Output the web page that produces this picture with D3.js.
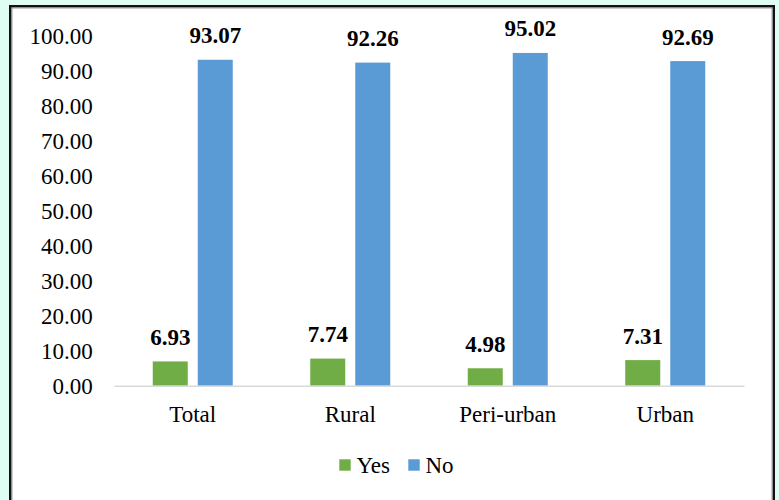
<!DOCTYPE html>
<html>
<head>
<meta charset="utf-8">
<script src="https://cdn.jsdelivr.net/npm/d3@7/dist/d3.min.js"></script>
</head>
<body style="margin:0;background:#e0fdf3">
<svg id="chart" width="779" height="500" style="display:block"></svg>
<script>
// Share of respondents answering Yes / No, by area
const categories = ["Total", "Rural", "Peri-urban", "Urban"];
const seriesNames = ["Yes", "No"];
const yesValues = [6.93, 7.74, 4.98, 7.31];
const noValues = [93.07, 92.26, 95.02, 92.69];
const yTicks = [0, 10, 20, 30, 40, 50, 60, 70, 80, 90, 100];
const seriesColors = ["#70ad47", "#5b9bd5"];

const rows = categories.map((c, i) => ({ category: c, Yes: yesValues[i], No: noValues[i] }));

const fontName = "Liberation Serif";
const fontSize = 23;
const svg = d3.select("#chart").attr("font-family", fontName);

// white chart panel with dark frame
svg.append("rect")
  .attr("x", 10.25).attr("y", 6.25)
  .attr("width", 763.5).attr("height", 510)
  .attr("fill", "#ffffff")
  .attr("stroke", "#111111")
  .attr("stroke-width", 2.5);
svg.append("rect")
  .attr("x", 12).attr("y", 8)
  .attr("width", 760).attr("height", 510)
  .attr("fill", "none")
  .attr("stroke", "#9a9a9a")
  .attr("stroke-width", 1);

const plot = { left: 114, right: 744, top: 35.5, bottom: 385.7 };

const y = d3.scaleLinear().domain([0, 100]).range([plot.bottom, plot.top]);
const x0 = d3.scaleBand().domain(categories).range([plot.left, plot.right]).paddingInner(0).paddingOuter(0);
const groupWidth = 80;
const x1 = d3.scaleBand().domain(seriesNames).range([0, groupWidth]).paddingInner(10 / 45).paddingOuter(0);
const color = d3.scaleOrdinal().domain(seriesNames).range(seriesColors);

function serifText(sel, bold) {
  sel.attr("font-family", fontName)
     .style("font-family", d => `"${fontName}"`)
     .style("font-size", d => `${fontSize}px`)
     .attr("font-weight", bold ? "bold" : null)
     .attr("fill", "#000");
}

// y axis: labels only
const yAxis = svg.append("g")
  .attr("transform", `translate(${plot.left},0)`)
  .call(d3.axisLeft(y).tickValues(yTicks).tickFormat(d3.format(".2f")).tickSize(0).tickPadding(21.3));
yAxis.attr("font-family", fontName).attr("font-size", fontSize);
yAxis.select(".domain").remove();
yAxis.selectAll("text").call(serifText, false).attr("dy", "0.33em");

// bars
const groups = svg.append("g").selectAll("g")
  .data(rows)
  .join("g")
  .attr("transform", d => `translate(${x0(d.category) + x0.bandwidth() / 2 - groupWidth / 2},0)`);

groups.selectAll("rect")
  .data(d => seriesNames.map(k => ({ key: k, value: d[k] })))
  .join("rect")
  .attr("x", d => x1(d.key))
  .attr("y", d => y(d.value))
  .attr("width", x1.bandwidth())
  .attr("height", d => y(0) - y(d.value))
  .attr("fill", d => color(d.key));

// value labels
groups.selectAll("text.value")
  .data(d => seriesNames.map(k => ({ key: k, value: d[k] })))
  .join("text")
  .attr("class", "value")
  .attr("x", d => x1(d.key) + x1.bandwidth() / 2)
  .attr("y", d => y(d.value) - 16.5)
  .attr("text-anchor", "middle")
  .call(serifText, true)
  .text(d => d.value.toFixed(2));

// x axis: baseline and category labels
const xAxis = svg.append("g")
  .attr("transform", `translate(0,${plot.bottom})`)
  .call(d3.axisBottom(x0).tickSize(0).tickSizeOuter(0));
xAxis.attr("font-family", fontName).attr("font-size", fontSize);
xAxis.select(".domain")
  .attr("stroke", "#d9d9d9")
  .attr("stroke-width", 1.6);
xAxis.selectAll("text").call(serifText, false)
  .attr("y", 36)
  .attr("dy", 0);

// legend
const legendPos = [339.3, 408.3];
const legend = svg.append("g").selectAll("g")
  .data(seriesNames)
  .join("g")
  .attr("transform", (d, i) => `translate(${legendPos[i]},459.3)`);
legend.append("rect")
  .attr("width", 11.4).attr("height", 11.4)
  .attr("fill", d => color(d));
legend.append("text")
  .attr("x", 17.2)
  .attr("y", 13.4)
  .call(serifText, false)
  .text(d => d);
</script>
</body>
</html>
